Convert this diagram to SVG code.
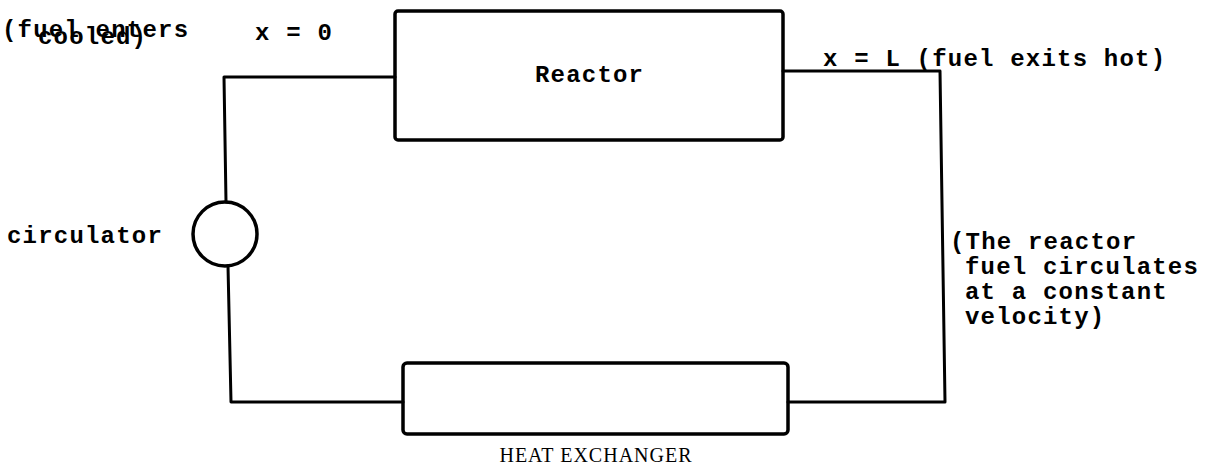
<svg xmlns="http://www.w3.org/2000/svg" width="1219" height="469" viewBox="0 0 1219 469">
<style>
.t{font-family:"Liberation Mono","DejaVu Sans Mono",monospace;font-weight:bold;font-size:24px;letter-spacing:1.2px;fill:#000}
.s{font-family:"Liberation Serif","Times New Roman",serif;font-size:20px;fill:#000;letter-spacing:1px}
.box{fill:none;stroke:#000;stroke-width:3.5}
.pipe{fill:none;stroke:#000;stroke-width:3;stroke-linejoin:round;stroke-linecap:round}
</style>
<rect width="1219" height="469" fill="#fff"/>
<g id="connectors">
<polyline class="pipe" points="395,77 224,77 226,202"/>
<polyline class="pipe" points="228,266 231,402 403,402"/>
<polyline class="pipe" points="788,402 945,402 940,71 783,71"/>
</g>
<g id="reactor">
<rect class="box" x="395" y="11" width="388" height="129" rx="3"/>
<text class="t" x="535" y="82">Reactor</text>
</g>
<g id="heat-exchanger">
<rect class="box" x="403" y="363" width="385" height="71" rx="4"/>
<text class="s" x="596" y="462" text-anchor="middle">HEAT EXCHANGER</text>
</g>
<g id="circulator">
<circle class="box" cx="225" cy="234" r="32"/>
<text class="t" x="7" y="243">circulator</text>
</g>
<g id="labels">
<text class="t" x="2" y="37">(fuel enters</text>
<text class="t" x="38" y="44">cooled)</text>
<text class="t" x="255" y="40">x = 0</text>
<text class="t" x="823" y="66">x = L (fuel exits hot)</text>
<text class="t" x="950" y="249">(The reactor</text>
<text class="t" x="965" y="274">fuel circulates</text>
<text class="t" x="965" y="299">at a constant</text>
<text class="t" x="965" y="324">velocity)</text>
</g>
</svg>
